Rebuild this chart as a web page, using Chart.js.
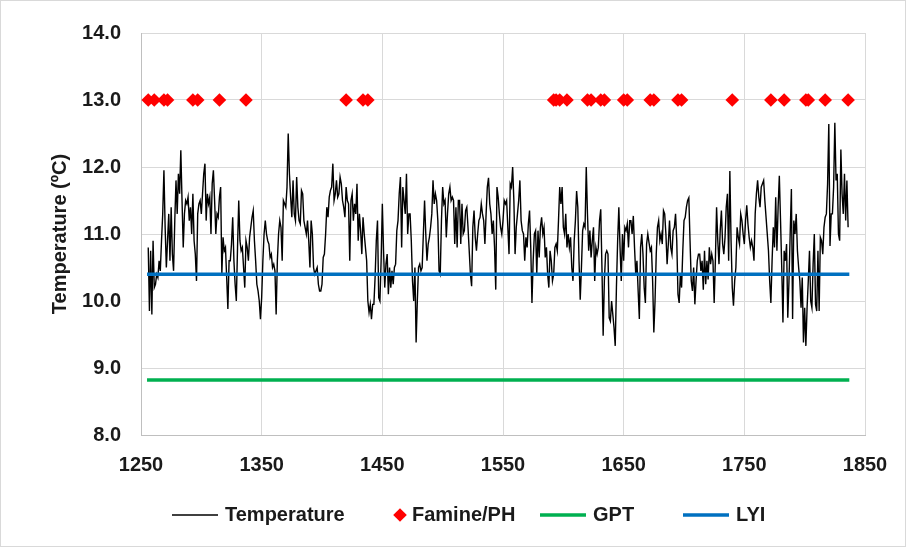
<!DOCTYPE html>
<html>
<head>
<meta charset="utf-8">
<script src="https://cdn.jsdelivr.net/npm/chart.js@4.4.0/dist/chart.umd.min.js"></script>
<style>
  html, body { margin: 0; padding: 0; background: #fff; }
  #wrap { width: 906px; height: 547px; }
</style>
</head>
<body>
<div id="wrap"><canvas id="mainChart" width="906" height="547"></canvas></div>
<script>
// annual temperature, one value per year starting at firstYear
const firstYear = 1256;
const temperature = [
  10.8, 9.85, 10.75, 9.8, 10.9, 10.2, 10.25, 10.4, 10.35, 10.6,      // 1256
  10.45, 10.9, 11.3, 11.95, 11.1, 10.5, 10.9, 11.3, 10.6, 11.4,      // 1266
  10.7, 10.45, 11.2, 11.8, 11.3, 11.9, 11.6, 12.25, 11.5, 10.8,      // 1276
  11.3, 11.5, 11.45, 11.55, 11.2, 11.4, 11.0, 11.6, 10.9, 10.7,      // 1286
  10.3, 11.3, 11.45, 11.5, 11.3, 11.6, 11.9, 12.05, 11.2, 11.6,      // 1296
  11.45, 11.55, 11.0, 11.75, 11.95, 11.5, 11.0, 11.3, 11.25, 11.55,  // 1306
  11.7, 10.4, 10.95, 10.75, 10.8, 10.35, 9.88, 10.6, 10.6, 10.85,    // 1316
  11.25, 10.6, 10.25, 10.0, 10.8, 11.5, 10.9, 10.75, 10.8, 10.5,     // 1326
  10.2, 10.9, 10.8, 10.6, 10.95, 11.1, 11.25, 11.35, 10.9, 10.6,     // 1336
  10.25, 10.15, 10.0, 9.73, 10.05, 10.6, 11.0, 11.2, 11.0, 10.9,     // 1346
  10.85, 10.65, 10.7, 10.5, 10.55, 10.45, 9.8, 10.6, 11.0, 11.2,     // 1356
  11.1, 10.6, 11.5, 11.45, 11.4, 11.7, 12.5, 11.9, 11.55, 11.25,     // 1366
  11.8, 11.3, 11.2, 11.85, 11.4, 11.2, 11.15, 11.65, 11.6, 11.2,     // 1376
  11.1, 11.0, 11.2, 10.9, 10.5, 11.2, 11.0, 10.5, 10.4, 10.45,       // 1386
  10.5, 10.25, 10.15, 10.15, 10.25, 10.65, 10.7, 11.0, 11.4, 11.25,  // 1396
  11.55, 11.65, 11.7, 12.05, 11.5, 11.6, 11.8, 11.55, 11.6, 11.85,   // 1406
  11.75, 11.5, 11.4, 11.25, 11.7, 11.5, 11.45, 10.6, 11.5, 11.6,     // 1416
  11.2, 11.45, 11.3, 11.75, 10.9, 11.3, 11.05, 10.7, 11.25, 11.0,    // 1426
  10.8, 10.6, 10.0, 9.83, 9.95, 9.73, 9.95, 9.95, 10.35, 10.9,       // 1436
  11.2, 10.05, 10.0, 10.6, 11.45, 10.75, 10.2, 10.55, 10.7, 10.1,    // 1446
  10.5, 10.2, 10.45, 10.25, 10.5, 10.55, 11.05, 11.2, 11.6, 11.85,   // 1456
  10.8, 11.7, 11.5, 11.3, 11.9, 11.0, 11.3, 11.3, 10.9, 10.3,        // 1466
  10.0, 10.5, 9.38, 10.0, 10.5, 10.55, 10.45, 10.5, 11.0, 11.5,      // 1476
  11.0, 10.6, 10.85, 10.95, 11.1, 11.3, 11.8, 11.45, 11.6, 11.5,     // 1486
  11.2, 10.45, 10.4, 11.2, 11.7, 11.45, 11.5, 10.95, 11.3, 11.6,     // 1496
  11.7, 11.5, 11.55, 11.5, 10.85, 11.4, 10.8, 11.5, 11.5, 10.85,     // 1506
  11.45, 11.0, 11.05, 11.35, 11.4, 11.1, 10.75, 10.4, 10.22, 11.1,   // 1516
  11.35, 10.95, 10.75, 11.0, 11.2, 11.25, 11.45, 11.3, 11.2, 10.85,  // 1526
  11.3, 11.7, 11.84, 11.45, 11.3, 11.0, 11.2, 10.8, 10.17, 11.7,     // 1536
  11.55, 11.3, 11.1, 11.0, 11.2, 11.5, 11.45, 11.5, 11.1, 10.7,      // 1546
  11.75, 11.7, 12.0, 11.5, 10.7, 11.1, 11.3, 11.5, 11.8, 11.2,       // 1556
  11.05, 11.0, 10.6, 10.95, 10.8, 11.15, 11.35, 10.8, 9.97, 10.6,    // 1566
  11.0, 11.05, 10.4, 11.05, 10.65, 11.1, 11.25, 11.0, 11.1, 10.65,   // 1576
  10.8, 10.4, 10.2, 10.75, 10.6, 10.3, 10.4, 10.8, 10.85, 10.75,     // 1586
  11.2, 11.7, 11.45, 11.7, 11.1, 11.0, 11.3, 10.8, 11.0, 10.8,       // 1596
  10.95, 10.5, 10.3, 10.9, 11.2, 11.64, 11.4, 10.6, 10.02, 10.5,     // 1606
  11.05, 11.15, 11.1, 12.0, 11.3, 10.75, 11.05, 10.65, 10.9, 11.1,   // 1616
  10.3, 10.8, 10.7, 10.8, 11.2, 11.37, 10.5, 9.48, 10.3, 10.7,       // 1626
  10.75, 10.7, 9.75, 9.7, 10.0, 9.8, 9.6, 9.33, 10.2, 10.9,          // 1636
  11.4, 10.8, 10.3, 11.0, 10.6, 11.1, 11.05, 11.15, 10.8, 11.2,      // 1646
  11.2, 11.0, 11.27, 10.8, 10.4, 10.6, 10.15, 9.73, 10.8, 11.0,      // 1656
  10.7, 10.2, 9.97, 10.85, 11.0, 10.87, 10.75, 10.8, 10.3, 9.53,     // 1666
  10.0, 10.7, 11.1, 11.2, 10.9, 11.0, 10.85, 11.35, 11.3, 11.0,      // 1676
  10.55, 10.85, 11.2, 10.8, 10.7, 11.05, 11.1, 11.3, 10.9, 10.1,     // 1686
  9.97, 10.4, 10.2, 10.75, 11.2, 11.25, 11.4, 11.5, 11.54, 10.9,     // 1696
  10.3, 10.15, 10.5, 9.95, 10.3, 10.6, 10.7, 10.7, 10.45, 10.6,      // 1706
  10.17, 10.75, 10.25, 10.6, 10.32, 10.8, 10.55, 10.7, 10.6, 9.97,   // 1716
  10.6, 11.4, 10.9, 10.55, 11.05, 11.35, 10.85, 10.7, 10.95, 11.4,   // 1726
  11.6, 10.6, 11.94, 10.9, 10.2, 9.93, 10.3, 10.5, 11.1, 10.95,      // 1736
  10.85, 11.3, 11.2, 11.0, 10.85, 11.2, 11.43, 11.15, 10.95, 10.8,   // 1746
  10.9, 10.8, 10.6, 11.3, 11.6, 11.8, 11.55, 11.4, 11.7, 11.75,      // 1756
  11.8, 11.5, 11.25, 11.0, 10.75, 10.3, 9.97, 10.6, 11.1, 10.8,      // 1766
  11.55, 10.75, 11.4, 11.87, 11.2, 10.5, 9.68, 10.75, 10.6, 10.85,   // 1776
  9.75, 10.3, 11.0, 11.67, 9.73, 11.2, 11.0, 11.3, 10.75, 10.5,      // 1786
  10.3, 9.9, 10.35, 9.38, 9.9, 9.33, 9.9, 10.3, 10.75, 10.0,         // 1796
  9.9, 10.55, 11.0, 9.95, 9.85, 10.75, 9.85, 10.95, 10.9, 10.7,      // 1806
  11.1, 11.25, 11.3, 11.75, 12.64, 10.82, 11.3, 11.3, 11.7, 12.66,   // 1816
  11.8, 11.9, 11.0, 10.9, 12.26, 11.6, 11.3, 11.9, 11.2, 11.8,       // 1826
  11.1                                                               // 1836
];

// famine / plague years, all plotted at one level
const famineYears = [1256, 1261, 1269, 1272, 1293, 1297, 1315, 1337, 1420, 1434, 1438,
  1592, 1594, 1597, 1603, 1620, 1623, 1631, 1634, 1650, 1653, 1672, 1675, 1695, 1698,
  1740, 1772, 1783, 1801, 1803, 1817, 1836];
const famineLevel = 13.0;

// flat reference levels
const levelYears = [1255, 1837];
const gptLevel = 8.82;
const lyiLevel = 10.4;

const xMin = 1250, xMax = 1850, xStep = 100;
const yMin = 8, yMax = 14, yStep = 1;

const FONT = "'Liberation Sans', Arial, sans-serif";
const TEXT = '#1a1a1a';

const tempPoints = temperature.map((t, i) => ({ x: firstYear + i, y: t }));
const faminePoints = famineYears.map(yr => ({ x: yr, y: famineLevel }));
const gptPoints = levelYears.map(yr => ({ x: yr, y: gptLevel }));
const lyiPoints = levelYears.map(yr => ({ x: yr, y: lyiLevel }));

// legend drawn by hand: line samples / diamond placed like the original
const legendLayout = [
  { sampleX: 172, kind: 'line' },
  { sampleX: 400, kind: 'diamond' },
  { sampleX: 540, kind: 'line' },
  { sampleX: 683, kind: 'line' }
];

const legendPlugin = {
  id: 'bottomLegend',
  beforeDraw(chart) {
    const ctx = chart.ctx;
    ctx.save();
    ctx.fillStyle = '#fff';
    ctx.fillRect(0, 0, chart.width, chart.height);
    ctx.strokeStyle = '#d9d9d9';
    ctx.lineWidth = 1;
    ctx.strokeRect(0.5, 0.5, chart.width - 1, chart.height - 1);
    ctx.restore();
  },
  afterDraw(chart) {
    const ctx = chart.ctx;
    const y = 515;
    ctx.save();
    ctx.font = 'bold 20px ' + FONT;
    ctx.textBaseline = 'middle';
    ctx.fillStyle = TEXT;
    chart.data.datasets.forEach((ds, i) => {
      const item = legendLayout[i];
      let textX;
      if (item.kind === 'line') {
        ctx.strokeStyle = ds.borderColor;
        ctx.lineWidth = ds.borderWidth;
        ctx.beginPath();
        ctx.moveTo(item.sampleX, y);
        ctx.lineTo(item.sampleX + 46, y);
        ctx.stroke();
        textX = item.sampleX + 53;
      } else {
        const r = ds.pointRadius;
        ctx.fillStyle = ds.pointBackgroundColor;
        ctx.beginPath();
        ctx.moveTo(item.sampleX - r, y);
        ctx.lineTo(item.sampleX, y - r);
        ctx.lineTo(item.sampleX + r, y);
        ctx.lineTo(item.sampleX, y + r);
        ctx.closePath();
        ctx.fill();
        textX = item.sampleX + 12;
      }
      ctx.fillStyle = TEXT;
      ctx.fillText(ds.label, textX, y);
    });
    ctx.restore();
  }
};

const ctx = document.getElementById('mainChart').getContext('2d');
const chart = new Chart(ctx, {
  type: 'line',
  data: {
    datasets: [
      {
        label: 'Temperature',
        data: tempPoints,
        borderColor: '#000000',
        borderWidth: 1.4,
        pointRadius: 0,
        tension: 0,
        order: 3
      },
      {
        label: 'Famine/PH',
        data: faminePoints,
        showLine: false,
        pointStyle: 'rectRot',
        pointRadius: 6.8,
        pointBackgroundColor: '#ff0000',
        pointBorderWidth: 0,
        borderColor: '#ff0000',
        order: 0
      },
      {
        label: 'GPT',
        data: gptPoints,
        borderColor: '#00b050',
        borderWidth: 3.5,
        pointRadius: 0,
        order: 2
      },
      {
        label: 'LYI',
        data: lyiPoints,
        borderColor: '#0070c0',
        borderWidth: 3.5,
        pointRadius: 0,
        order: 1
      }
    ]
  },
  options: {
    responsive: false,
    animation: false,
    layout: { padding: { left: 40, right: 41, top: 33, bottom: 0 } },
    plugins: {
      legend: { display: false },
      tooltip: { enabled: false }
    },
    scales: {
      x: {
        type: 'linear',
        min: xMin,
        max: xMax,
        ticks: {
          stepSize: xStep,
          padding: 18,
          color: TEXT,
          font: { family: FONT, size: 20, weight: 'bold' },
          callback: v => String(v)
        },
        grid: { color: '#d9d9d9', lineWidth: 1, drawTicks: false },
        border: { color: '#bfbfbf', width: 1 },
        afterFit: s => { s.height = 112; }
      },
      y: {
        min: yMin,
        max: yMax,
        ticks: {
          stepSize: yStep,
          padding: 20,
          color: TEXT,
          font: { family: FONT, size: 20, weight: 'bold' },
          callback: v => v.toFixed(1)
        },
        grid: { color: '#d9d9d9', lineWidth: 1, drawTicks: false },
        border: { color: '#bfbfbf', width: 1 },
        title: {
          display: true,
          text: 'Temperature (ºC)',
          color: TEXT,
          font: { family: FONT, size: 20, weight: 'bold' },
          padding: { top: 8, bottom: 0 }
        },
        afterFit: s => { s.width = 101; }
      }
    }
  },
  plugins: [legendPlugin]
});
</script>
</body>
</html>
